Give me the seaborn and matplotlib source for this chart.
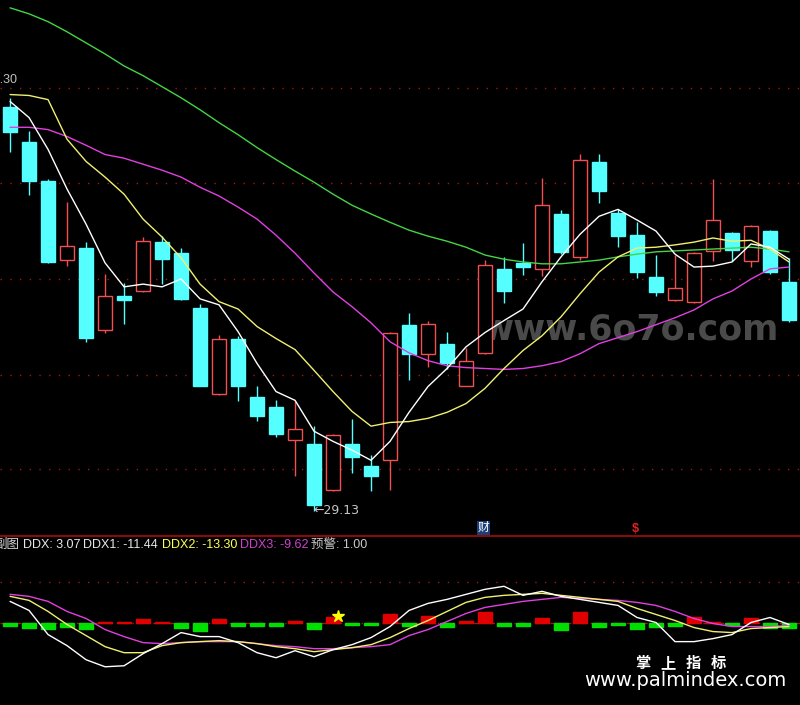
import numpy as np
import pandas as pd
import matplotlib
matplotlib.use('Agg')
import matplotlib.pyplot as plt
import seaborn as sns
from matplotlib.lines import Line2D

# daily candles (price)
opens = [37.87, 37.13, 36.27, 34.56, 34.82, 33.05, 33.79, 33.89, 34.95, 34.71,
         33.53, 31.65, 32.86, 31.60, 31.37, 30.67, 30.57, 29.57, 30.57, 30.09,
         30.22, 33.16, 32.53, 32.75, 31.84, 32.55, 34.37, 34.50, 34.37, 35.56,
         34.63, 36.68, 35.58, 35.10, 34.20, 33.70, 33.66, 34.76, 35.15, 34.54,
         35.19, 34.09]
highs = [38.08, 37.37, 36.31, 35.82, 34.95, 34.26, 34.07, 35.06, 35.08, 34.82,
         33.61, 32.94, 32.92, 31.82, 31.52, 31.50, 30.96, 30.78, 31.11, 30.33,
         33.01, 33.42, 33.25, 33.01, 32.66, 34.56, 34.63, 34.93, 36.33, 35.64,
         36.87, 36.87, 35.66, 35.38, 34.67, 34.67, 34.73, 36.31, 35.17, 35.32,
         35.21, 34.61]
lows = [36.90, 35.97, 34.50, 34.43, 32.79, 32.99, 33.18, 33.87, 34.04, 33.70,
        31.82, 31.63, 31.50, 31.08, 30.72, 29.88, 29.13, 29.55, 29.94, 29.55,
        29.57, 31.97, 32.25, 32.21, 31.82, 32.53, 33.63, 34.24, 34.22, 34.69,
        34.56, 35.79, 34.84, 34.17, 33.79, 33.68, 33.64, 34.54, 34.54, 34.41,
        34.26, 33.22]
closes = [37.33, 36.27, 34.52, 34.87, 32.88, 33.79, 33.70, 34.97, 34.58, 33.72,
          31.84, 32.86, 31.84, 31.19, 30.78, 30.89, 29.25, 30.76, 30.29, 29.88,
          32.99, 32.53, 33.18, 32.34, 32.38, 34.45, 33.89, 34.41, 35.75, 34.74,
          36.74, 36.05, 35.08, 34.30, 33.87, 33.96, 34.71, 35.43, 34.78, 35.30,
          34.30, 33.27]

# moving averages
ma5 = [38.00, 37.65, 36.96, 36.10, 35.34, 34.50, 33.98, 34.04, 33.98, 34.15,
       33.72, 33.59, 33.01, 32.32, 31.71, 31.52, 30.85, 30.63, 30.44, 30.22,
       30.63, 31.26, 31.82, 32.21, 32.68, 32.99, 33.25, 33.50, 34.09, 34.63,
       35.12, 35.51, 35.66, 35.43, 35.19, 34.69, 34.41, 34.43, 34.52, 34.91,
       34.84, 34.58]
ma10 = [38.15, 38.13, 38.04, 37.18, 36.70, 36.36, 35.99, 35.45, 35.06, 34.61,
        34.04, 33.66, 33.50, 33.12, 32.86, 32.62, 32.17, 31.71, 31.28, 30.96,
        31.04, 31.06, 31.13, 31.26, 31.45, 31.78, 32.21, 32.60, 32.92, 33.33,
        33.83, 34.30, 34.63, 34.82, 34.84, 34.89, 34.95, 35.04, 34.97, 34.99,
        34.80, 34.52]
ma20 = [37.44, 37.44, 37.39, 37.24, 37.05, 36.85, 36.77, 36.64, 36.51, 36.36,
        36.14, 35.95, 35.71, 35.45, 35.10, 34.71, 34.28, 33.87, 33.55, 33.20,
        32.79, 32.55, 32.38, 32.27, 32.23, 32.21, 32.19, 32.21, 32.27, 32.36,
        32.53, 32.75, 32.88, 33.01, 33.16, 33.31, 33.48, 33.72, 33.89, 34.15,
        34.37, 34.41]
ma60 = [40.03, 39.90, 39.73, 39.51, 39.27, 39.03, 38.77, 38.56, 38.32, 38.08,
        37.82, 37.54, 37.28, 37.00, 36.74, 36.49, 36.25, 35.99, 35.75, 35.56,
        35.38, 35.21, 35.08, 34.97, 34.84, 34.67, 34.58, 34.52, 34.48, 34.48,
        34.52, 34.56, 34.63, 34.69, 34.74, 34.76, 34.78, 34.80, 34.82, 34.84,
        34.80, 34.74]
price_grid = [38.30, 36.23, 34.15, 32.08, 30.03]
low_label = 29.13
low_index = 16

# DDX sub chart
ddx = [-6, -11, -12, -9, -12, 2, 1, 7, 1, -11, -16, 6, -7, -7, -7, 3, -12, 11,
       -5, -4, 16, -7, 13, -9, 3, 21, -7, -7, 9, -14, 21, -9, -4, -12, -9, -6,
       11, 1, -4, 8, -11, -11]
ddx1 = [42, 24, -24, -46, -74, -88, -86, -62, -42, -20, -28, -28, -40, -60, -70,
        -56, -68, -54, -44, -30, -8, 24, 38, 46, 56, 66, 72, 54, 62, 52, 46, 40,
        34, 10, 0, -38, -38, -32, -24, 0, 10, -4]
ddx2 = [52, 44, 22, -4, -26, -48, -60, -60, -46, -40, -38, -36, -38, -42, -48,
        -52, -58, -54, -50, -44, -30, -12, 4, 22, 40, 50, 54, 56, 58, 54, 50, 46,
        42, 28, 16, 4, -10, -18, -20, -12, -10, -8]
ddx3 = [56, 52, 42, 22, 8, -14, -28, -40, -42, -40, -38, -38, -38, -42, -46,
        -48, -52, -52, -50, -48, -44, -26, -14, 2, 18, 30, 36, 42, 46, 50, 48, 46,
        44, 40, 34, 22, 8, -2, -8, -8, -8, -6]
ddx_grid = 80
star_index = 17
star_value = 12

header = [('副图', '#d8d8d8'), ('DDX: 3.07', '#e8e8e8'), ('DDX1: -11.44', '#e8e8e8'),
          ('DDX2: -13.30', '#ffff55'), ('DDX3: -9.62', '#d040d0'), ('预警: 1.00', '#c8c8c8')]
header_x = [-6, 23, 83, 162, 240, 311]

sns.set_style('dark', rc={'axes.facecolor': 'black', 'figure.facecolor': 'black'})
plt.rcParams['font.family'] = ['Liberation Sans', 'Noto Sans CJK SC', 'DejaVu Sans']

W, H = 800, 705
fig = plt.figure(figsize=(8, 7.05), dpi=100)
ax = fig.add_axes([0, 1 - 535 / H, 1, 535 / H])
ax2 = fig.add_axes([0, 0, 1, (H - 536) / H])

idx = np.arange(len(opens))
df = pd.DataFrame({'i': idx, 'o': opens, 'h': highs, 'l': lows, 'c': closes})
up = df['c'] >= df['o']
RED, CYAN = '#f05050', '#55ffff'

# candles
for is_up, col in [(True, RED), (False, CYAN)]:
    d = df[up == is_up]
    ax.vlines(d['i'], d['l'], d['h'], color=col, lw=1, zorder=2)
    bottom = np.minimum(d['o'], d['c'])
    height = np.maximum((d['c'] - d['o']).abs(), 0.04)
    ax.bar(d['i'], height, bottom=bottom, width=0.78,
           color='black' if is_up else CYAN, edgecolor=col, lw=1, zorder=3)

for y, col in [(ma60, '#44d444'), (ma20, '#e040e0'), (ma10, '#f0f070'), (ma5, 'white')]:
    sns.lineplot(x=idx, y=y, ax=ax, color=col, lw=1, zorder=4)

for g in price_grid:
    ax.axhline(g, color='#a01818', lw=1, ls=(0, (1, 6)), zorder=1)

ax.set_xlim(-0.53, 41.58)
ax.set_ylim(28.60, 40.20)
ax.text(low_index - 0.03, low_label, '\u2190' + f'{low_label:.2f}', color='#c8c8c8',
        fontsize=9, va='center', ha='left', family=['DejaVu Sans'])
ax.text(630 / W, 1 - 340 / 535, 'www.6o7o.com', color='#4a4a4a', fontsize=25,
        fontweight='bold', ha='center', va='baseline', family=['DejaVu Sans'],
        transform=ax.transAxes, zorder=1)

# lower panel
bar_cols = ['#e00000' if v > 0 else '#00e000' for v in ddx]
ax2.bar(idx, ddx, width=0.74, color=bar_cols, edgecolor=bar_cols, lw=1, zorder=2)
ax2.axhline(0, color='#9a1a1a', lw=1, ls=(0, (4, 3, 1, 3)), zorder=1)
ax2.axhline(ddx_grid, color='#a01818', lw=1, ls=(0, (1, 6)), zorder=1)
for y, col in [(ddx3, '#e040e0'), (ddx2, '#f0f070'), (ddx1, 'white')]:
    sns.lineplot(x=idx, y=y, ax=ax2, color=col, lw=1, zorder=4)
ax2.plot(star_index + 0.25, star_value, marker='*', color='#ffff00', ms=9, zorder=5)
ax2.set_xlim(-0.53, 41.58)
ax2.set_ylim(-164, 172)

for a in (ax, ax2):
    a.set_axis_off()

# separator and header
fig.add_artist(Line2D([0, 1], [1 - 535.5 / H] * 2, color='#9a0a0a', lw=1.3))
for (s, col), x in zip(header, header_x):
    fig.text(x / W, 1 - 545 / H, s, color=col, fontsize=9, va='center', ha='left')
fig.text(18 / W, 1 - 80 / H, f'{price_grid[0]:.2f}', color='#c0c0c0', fontsize=9,
         va='center', ha='right')

# markers below price panel
fig.text(483.5 / W, 1 - 528 / H, '财', color='white', fontsize=8.5, ha='center', va='center',
         bbox=dict(facecolor='#1b3f78', edgecolor='none', pad=0.6))
fig.text(635 / W, 1 - 529 / H, '$', color='#e02020', fontsize=9, fontweight='bold',
         ha='center', va='center')

# site watermark
brand = ['掌', '上', '指', '标']
brand_x = [643, 668, 693, 718]
for ch, x in zip(brand, brand_x):
    fig.text(x / W, 1 - 663 / H, ch, color='white', fontsize=11, fontweight='bold',
             ha='center', va='center', family=['Noto Sans CJK SC'])
fig.text(685 / W, 1 - 680 / H, 'www.palmindex.com', color='white', fontsize=14,
         ha='center', va='center', family=['DejaVu Sans'])

fig.savefig('out.png', dpi=100, facecolor='black')
